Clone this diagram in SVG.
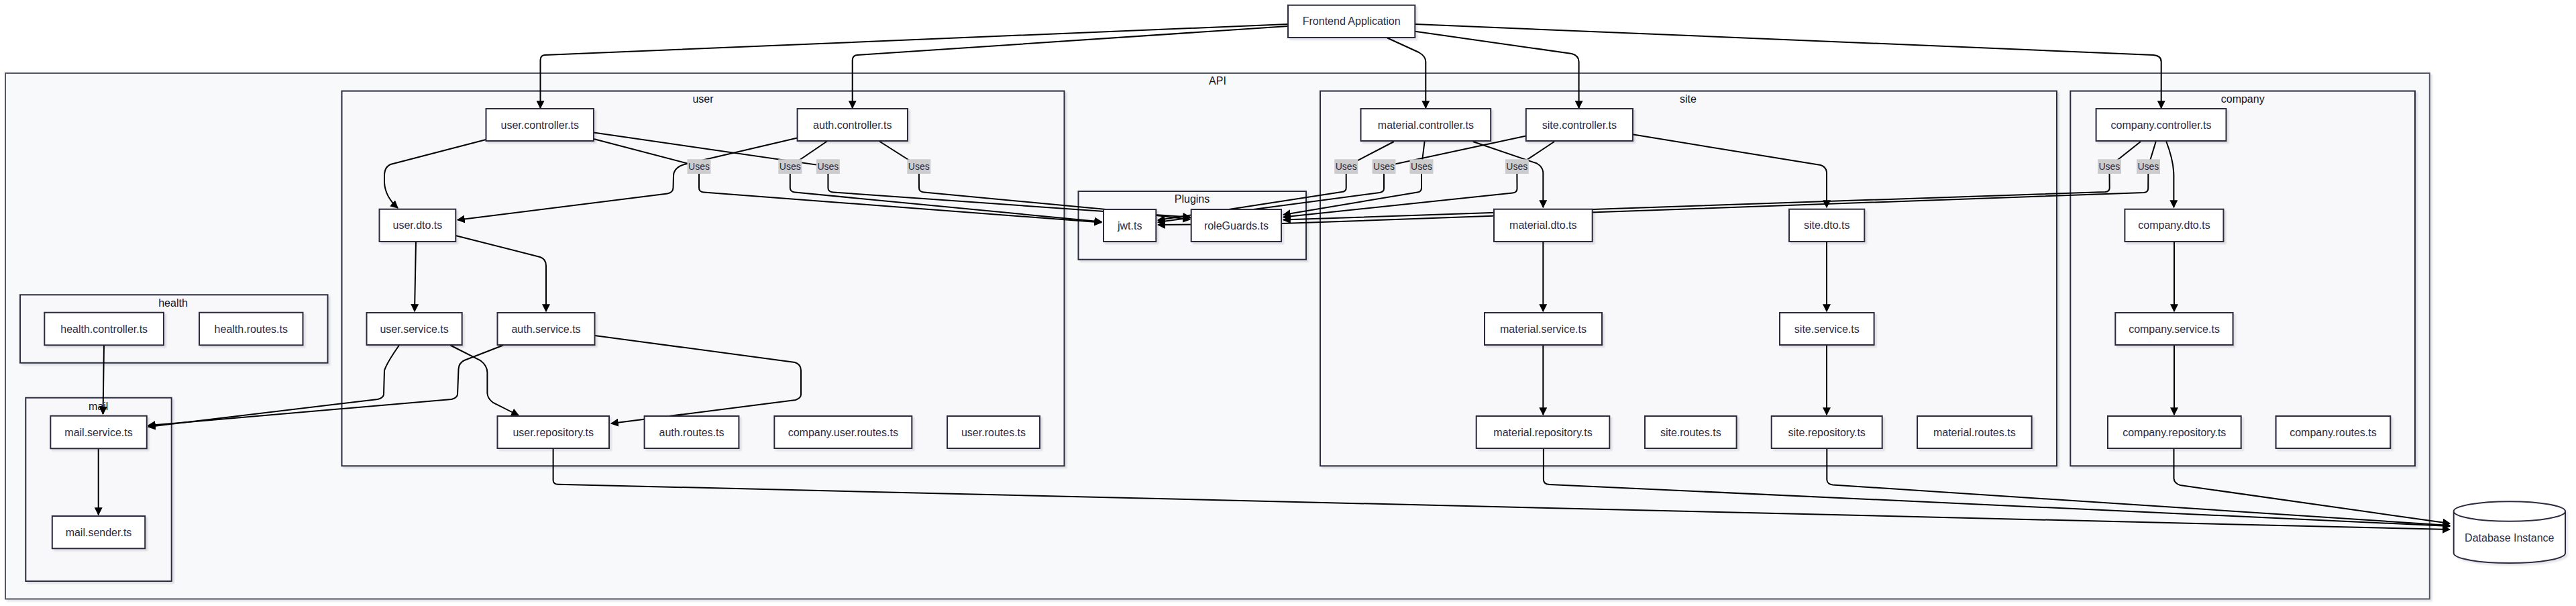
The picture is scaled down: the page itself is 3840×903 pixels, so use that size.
<svg xmlns="http://www.w3.org/2000/svg" width="3840" height="903" viewBox="0 0 3840 903">
<style>
.bg{fill:#ffffff}
.api{fill:#f8f9fb;stroke:#55556a;stroke-width:2}
.cl{fill:#f8f8fa;stroke:#2b2b40;stroke-width:2}
.nd{fill:#ffffff;stroke:#2b2b40;stroke-width:2}
.t{font-family:"Liberation Sans",Arial,sans-serif;font-size:16px;fill:#2d2d44;text-anchor:middle}
.ct{font-family:"Liberation Sans",Arial,sans-serif;font-size:16px;fill:#111122;text-anchor:middle}
.ea{fill:none;stroke:#000000;stroke-width:2;marker-end:url(#arr)}
.lb{fill:#cccccc}
.lt{font-family:"Liberation Sans",Arial,sans-serif;font-size:14px;fill:#2d2d44;text-anchor:middle}
</style>
<defs>
<filter id="sh" x="-5%" y="-5%" width="115%" height="130%">
<feDropShadow dx="3" dy="3" stdDeviation="1.2" flood-color="#000" flood-opacity="0.1"/>
</filter>
<marker id="arr" viewBox="0 0 10 10" refX="9" refY="5" markerUnits="userSpaceOnUse" markerWidth="12" markerHeight="12" orient="auto">
<path d="M0,0 L10,5 L0,10 z" fill="#000"/>
</marker>
</defs>
<rect class="bg" x="0" y="0" width="3840" height="903"/>

<g id="clusters">
<g id="cluster-API"><rect class="api" filter="url(#sh)" x="8" y="109" width="3613.8" height="783.5"/><text class="ct" x="1815" y="125.5">API</text></g>
<g id="cluster-user"><rect class="cl" filter="url(#sh)" x="509.5" y="135.6" width="1077" height="558.7"/><text class="ct" x="1048" y="152.5">user</text></g>
<g id="cluster-Plugins"><rect class="cl" filter="url(#sh)" x="1607.5" y="285" width="339.5" height="101.7"/><text class="ct" x="1777" y="302">Plugins</text></g>
<g id="cluster-site"><rect class="cl" filter="url(#sh)" x="1968" y="135.6" width="1098" height="558.7"/><text class="ct" x="2516.4" y="152.5">site</text></g>
<g id="cluster-company"><rect class="cl" filter="url(#sh)" x="3086.3" y="135.6" width="513.7" height="558.7"/><text class="ct" x="3343.2" y="152.5">company</text></g>
<g id="cluster-health"><rect class="cl" filter="url(#sh)" x="30" y="439.3" width="458.5" height="101.4"/><text class="ct" x="258" y="456.5">health</text></g>
<g id="cluster-mail"><rect class="cl" filter="url(#sh)" x="38.3" y="592.7" width="217.4" height="273.3"/><text class="ct" x="146.7" y="610.5">mail</text></g>
</g>

<g id="connectors">
<path class="ea" d="M1920,36 L812,82 Q805.5,82.5 805.5,90 L805.5,161"/>
<path class="ea" d="M1920,39 L1278,82 Q1270.7,82.5 1270.7,90 L1270.7,161"/>
<path class="ea" d="M2068,56.5 L2115,78 Q2125.3,84 2125.3,92 L2125.3,161"/>
<path class="ea" d="M2109.3,46.7 L2343,80 Q2353.6,83 2353.6,92 L2353.6,161"/>
<path class="ea" d="M2109.3,36 L3210,82 Q3221.7,83 3221.7,92 L3221.7,161"/>
<path class="ea" d="M724.5,208 L582,245 Q573,249 573,262 L573,272 Q574,293 593,310"/>
<path class="ea" d="M885,207 L1042,248 L1042,280 Q1042,286 1049,286.5 L1642,331.5"/>
<path class="ea" d="M885,197.6 L1234.4,248 L1234.4,280 Q1234.4,286 1242,286.5 L1646,315 L1774,323.5"/>
<path class="ea" d="M1233.6,210 L1177.8,248 L1177.8,280 Q1178,286 1185,286.5 L1642,330.5"/>
<path class="ea" d="M1310,210 L1369.8,248 L1370,280 Q1370,286 1377.5,286.5 L1646,311.7 L1774,327"/>
<path class="ea" d="M1188.6,205.5 L1020,245 Q1004,250 1004,262 L1003.5,280 Q1003,287 995,288.5 L682,327.7"/>
<path class="ea" d="M620,360 L618,464"/>
<path class="ea" d="M679,351 L805,383 Q814,386 814,396 L814,464"/>
<path class="ea" d="M595,514.5 Q577,540 573,552 L572,588 Q571,593 563,595 L221,636"/>
<path class="ea" d="M750,514.5 L692,537 Q684,541 683.5,550 L682,588 Q681,593 673,595 L221,634"/>
<path class="ea" d="M671.4,514.5 L716,537 Q726.4,545 726.4,555 L726.4,586 Q727,594 735,600 L773,619"/>
<path class="ea" d="M886.4,500 L1185,540 Q1194,543 1194,552 L1194,588 Q1194,593 1186,596 L911,631"/>
<path class="ea" d="M824.6,668 L824.6,716 Q825,721.5 832,721.7 L3652,789"/>
<path class="ea" d="M155,514.3 L153.5,617"/>
<path class="ea" d="M146.7,668.3 L146.7,767"/>
<path class="ea" d="M2077.9,211 L2006.7,248 L2006.7,280 Q2006.7,285.7 2000,286 L1840,310.7 L1726,328"/>
<path class="ea" d="M2275,202.6 L2063,248 L2063,281 Q2063,286 2056.7,287 L1726,331"/>
<path class="ea" d="M2123.6,211 L2119,248 L2119,280 Q2119,285.7 2113,286.5 L1913,320"/>
<path class="ea" d="M2317,211 L2261.3,248 L2261.5,281 Q2261.5,286.7 2255,287.5 L1913,323.5"/>
<path class="ea" d="M2195.7,211 L2291,243.5 Q2300.3,249 2300.3,258 L2300.3,309"/>
<path class="ea" d="M2433.6,200.3 L2714,246 Q2723,249 2723,258 L2723,309"/>
<path class="ea" d="M2300.3,360 L2300.3,464"/>
<path class="ea" d="M2300.3,514 L2300.3,618"/>
<path class="ea" d="M2723,360 L2723,464"/>
<path class="ea" d="M2723,514 L2723,618"/>
<path class="ea" d="M2300.9,668 L2300.9,715 Q2301,721.5 2310,722 L3652,784"/>
<path class="ea" d="M2723.3,668 L2723.3,715 Q2724,721.5 2732,722.5 L3652,783"/>
<path class="ea" d="M3240.5,668 L3240.5,713 Q3241,720 3250,723 L3652,780"/>
<path class="ea" d="M3191,211 L3144.4,248 L3144.7,280 Q3144.7,285.6 3138,286 L1913,327.6"/>
<path class="ea" d="M3213.7,211 L3202.4,248 L3202.2,281 Q3202,286.4 3196,287 L1912,333 L1726,335"/>
<path class="ea" d="M3229.3,211 Q3240.4,240 3240.4,262 L3240.4,309"/>
<path class="ea" d="M3241,360 L3241,464"/>
<path class="ea" d="M3241,514 L3241,618"/>
</g>

<g id="edge-labels">
<rect class="lb" x="1024.5" y="237.3" width="35" height="21.7"/><text class="lt" x="1042" y="253">Uses</text>
<rect class="lb" x="1160.3" y="237.3" width="35" height="21.7"/><text class="lt" x="1177.8" y="253">Uses</text>
<rect class="lb" x="1216.9" y="237.3" width="35" height="21.7"/><text class="lt" x="1234.4" y="253">Uses</text>
<rect class="lb" x="1352.3" y="237.3" width="35" height="21.7"/><text class="lt" x="1369.8" y="253">Uses</text>
<rect class="lb" x="1989.2" y="237.3" width="35" height="21.7"/><text class="lt" x="2006.7" y="253">Uses</text>
<rect class="lb" x="2045.5" y="237.3" width="35" height="21.7"/><text class="lt" x="2063" y="253">Uses</text>
<rect class="lb" x="2101.5" y="237.3" width="35" height="21.7"/><text class="lt" x="2119" y="253">Uses</text>
<rect class="lb" x="2243.8" y="237.3" width="35" height="21.7"/><text class="lt" x="2261.3" y="253">Uses</text>
<rect class="lb" x="3127" y="237.3" width="35" height="21.7"/><text class="lt" x="3144.4" y="253">Uses</text>
<rect class="lb" x="3185" y="237.3" width="35" height="21.7"/><text class="lt" x="3202.4" y="253">Uses</text>
</g>

<g id="nodes">
<g id="frontend"><rect class="nd" filter="url(#sh)" x="1920" y="7.7" width="189.3" height="48.3"/><text class="t" x="2014.7" y="37.4">Frontend Application</text></g>
<g id="user-controller"><rect class="nd" filter="url(#sh)" x="724.5" y="162" width="160.5" height="48"/><text class="t" x="804.8" y="191.5">user.controller.ts</text></g>
<g id="auth-controller"><rect class="nd" filter="url(#sh)" x="1188.6" y="162" width="164.4" height="48"/><text class="t" x="1270.8" y="191.5">auth.controller.ts</text></g>
<g id="user-dto"><rect class="nd" filter="url(#sh)" x="565.5" y="311.7" width="113.8" height="48.3"/><text class="t" x="622.4" y="341.4">user.dto.ts</text></g>
<g id="user-service"><rect class="nd" filter="url(#sh)" x="546.5" y="466" width="142.2" height="48"/><text class="t" x="617.6" y="495.5">user.service.ts</text></g>
<g id="auth-service"><rect class="nd" filter="url(#sh)" x="741.5" y="466" width="145" height="48"/><text class="t" x="814" y="495.5">auth.service.ts</text></g>
<g id="user-repository"><rect class="nd" filter="url(#sh)" x="741.5" y="620" width="166.5" height="48"/><text class="t" x="824.7" y="649.5">user.repository.ts</text></g>
<g id="auth-routes"><rect class="nd" filter="url(#sh)" x="960.6" y="620" width="140.8" height="48"/><text class="t" x="1031" y="649.5">auth.routes.ts</text></g>
<g id="company-user-routes"><rect class="nd" filter="url(#sh)" x="1154.3" y="620" width="205" height="48"/><text class="t" x="1256.8" y="649.5">company.user.routes.ts</text></g>
<g id="user-routes"><rect class="nd" filter="url(#sh)" x="1412" y="620" width="138" height="48"/><text class="t" x="1481" y="649.5">user.routes.ts</text></g>
<g id="jwt"><rect class="nd" filter="url(#sh)" x="1645" y="312" width="78.3" height="48"/><text class="t" x="1684.2" y="341.5">jwt.ts</text></g>
<g id="roleGuards"><rect class="nd" filter="url(#sh)" x="1775.7" y="312" width="134.3" height="48"/><text class="t" x="1842.9" y="341.5">roleGuards.ts</text></g>
<g id="material-controller"><rect class="nd" filter="url(#sh)" x="2028.5" y="162" width="193.7" height="48"/><text class="t" x="2125.4" y="191.5">material.controller.ts</text></g>
<g id="site-controller"><rect class="nd" filter="url(#sh)" x="2274.8" y="162" width="159.2" height="48"/><text class="t" x="2354.4" y="191.5">site.controller.ts</text></g>
<g id="material-dto"><rect class="nd" filter="url(#sh)" x="2227" y="311.7" width="146.7" height="48.3"/><text class="t" x="2300.3" y="341.4">material.dto.ts</text></g>
<g id="site-dto"><rect class="nd" filter="url(#sh)" x="2667" y="311.7" width="112.3" height="48.3"/><text class="t" x="2723.2" y="341.4">site.dto.ts</text></g>
<g id="material-service"><rect class="nd" filter="url(#sh)" x="2213" y="466" width="175" height="48"/><text class="t" x="2300.5" y="495.5">material.service.ts</text></g>
<g id="site-service"><rect class="nd" filter="url(#sh)" x="2653" y="466" width="140.6" height="48"/><text class="t" x="2723.3" y="495.5">site.service.ts</text></g>
<g id="material-repository"><rect class="nd" filter="url(#sh)" x="2200.7" y="620" width="198.6" height="48"/><text class="t" x="2300" y="649.5">material.repository.ts</text></g>
<g id="site-routes"><rect class="nd" filter="url(#sh)" x="2452" y="620" width="136.6" height="48"/><text class="t" x="2520.3" y="649.5">site.routes.ts</text></g>
<g id="site-repository"><rect class="nd" filter="url(#sh)" x="2640.7" y="620" width="165" height="48"/><text class="t" x="2723.2" y="649.5">site.repository.ts</text></g>
<g id="material-routes"><rect class="nd" filter="url(#sh)" x="2858" y="620" width="170.6" height="48"/><text class="t" x="2943.3" y="649.5">material.routes.ts</text></g>
<g id="company-controller"><rect class="nd" filter="url(#sh)" x="3124.6" y="162" width="193.9" height="48"/><text class="t" x="3221.5" y="191.5">company.controller.ts</text></g>
<g id="company-dto"><rect class="nd" filter="url(#sh)" x="3167.4" y="311.7" width="147.1" height="48.3"/><text class="t" x="3241" y="341.4">company.dto.ts</text></g>
<g id="company-service"><rect class="nd" filter="url(#sh)" x="3153.3" y="466" width="175.3" height="48"/><text class="t" x="3241" y="495.5">company.service.ts</text></g>
<g id="company-repository"><rect class="nd" filter="url(#sh)" x="3142" y="620" width="198.7" height="48"/><text class="t" x="3241.3" y="649.5">company.repository.ts</text></g>
<g id="company-routes"><rect class="nd" filter="url(#sh)" x="3392.6" y="620" width="170.7" height="48"/><text class="t" x="3478" y="649.5">company.routes.ts</text></g>
<g id="health-controller"><rect class="nd" filter="url(#sh)" x="66.3" y="465.7" width="177.7" height="48.6"/><text class="t" x="155.2" y="495.5">health.controller.ts</text></g>
<g id="health-routes"><rect class="nd" filter="url(#sh)" x="297" y="465.7" width="154.5" height="48.6"/><text class="t" x="374.3" y="495.5">health.routes.ts</text></g>
<g id="mail-service"><rect class="nd" filter="url(#sh)" x="75.3" y="619.7" width="143.5" height="48.6"/><text class="t" x="147" y="649.5">mail.service.ts</text></g>
<g id="mail-sender"><rect class="nd" filter="url(#sh)" x="77.8" y="769" width="138.4" height="48.3"/><text class="t" x="147" y="798.7">mail.sender.ts</text></g>
<g id="database"><path class="nd" filter="url(#sh)" d="M3657.7,762 a83.15,14.7 0 0 0 166.3,0 a83.15,14.7 0 0 0 -166.3,0 l0,62.3 a83.15,14.7 0 0 0 166.3,0 l0,-62.3"/><text class="t" x="3740.8" y="806.5">Database Instance</text></g>
</g>
</svg>
